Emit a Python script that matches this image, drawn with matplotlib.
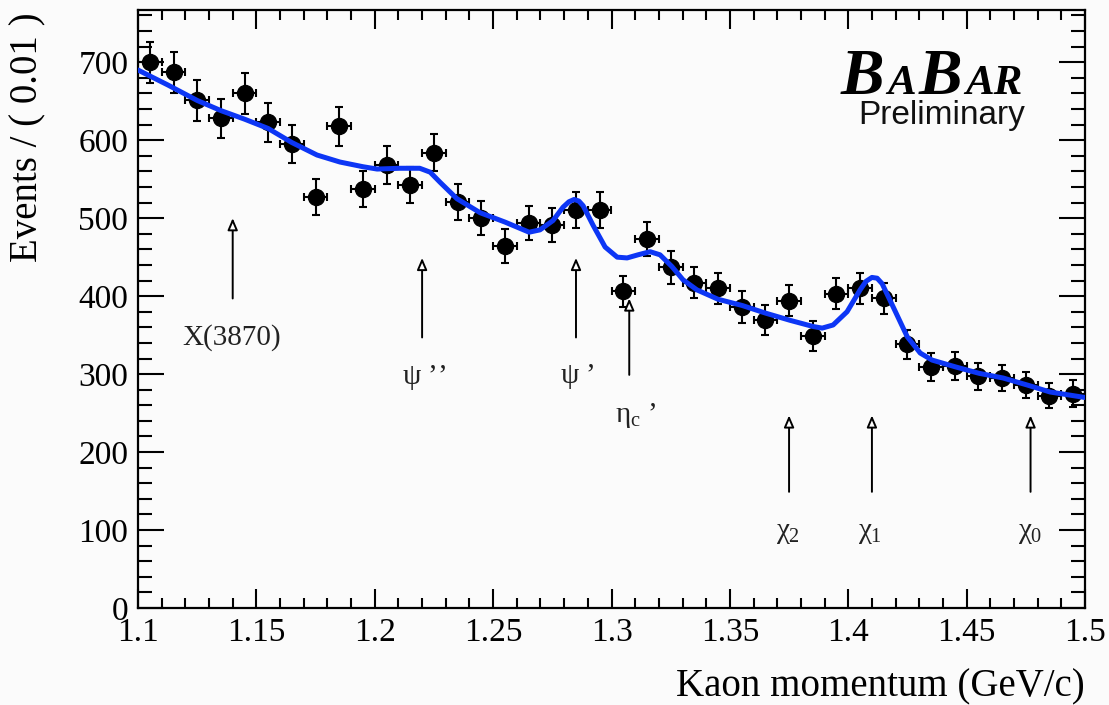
import numpy as np
import matplotlib
matplotlib.use("Agg")
import matplotlib.pyplot as plt
from matplotlib.ticker import MultipleLocator, FormatStrFormatter
from matplotlib.offsetbox import TextArea, HPacker, AnnotationBbox

plt.rcParams['font.family'] = ['Liberation Serif', 'DejaVu Serif']
plt.rcParams['mathtext.fontset'] = 'custom'
plt.rcParams['mathtext.rm'] = 'Liberation Serif'
plt.rcParams['mathtext.it'] = 'Liberation Serif'
plt.rcParams['mathtext.bf'] = 'Liberation Serif:bold'

# ---- data ----
bin_centers = [1.105, 1.115, 1.125, 1.135, 1.145, 1.155, 1.165, 1.175, 1.185, 1.195,
               1.205, 1.215, 1.225, 1.235, 1.245, 1.255, 1.265, 1.275, 1.285, 1.295,
               1.305, 1.315, 1.325, 1.335, 1.345, 1.355, 1.365, 1.375, 1.385, 1.395,
               1.405, 1.415, 1.425, 1.435, 1.445, 1.455, 1.465, 1.475, 1.485, 1.495]
events = [700, 687, 651, 628, 660, 623, 595, 527, 618, 537,
          568, 543, 584, 521, 500, 464, 494, 491, 510, 510,
          406, 473, 437, 417, 410, 386, 369, 394, 349, 403,
          410, 397, 338, 309, 310, 297, 295, 286, 272, 275]
event_errors = [26, 26, 26, 25, 26, 25, 24, 23, 25, 23,
                24, 23, 24, 23, 22, 22, 22, 22, 23, 23,
                20, 22, 21, 20, 20, 20, 19, 20, 19, 20,
                20, 20, 18, 18, 18, 17, 17, 17, 16, 17]
bin_half_width = 0.005

fit_x = [1.100, 1.1125, 1.125, 1.135, 1.145, 1.155, 1.165, 1.1756, 1.1853, 1.195,
         1.201, 1.2107, 1.219, 1.2234, 1.2276, 1.2347, 1.2445, 1.255, 1.2652, 1.2698,
         1.2753, 1.2795, 1.282, 1.2842, 1.2862, 1.288, 1.2922, 1.2973, 1.3024, 1.3066,
         1.3112, 1.3163, 1.3205, 1.3255, 1.3302, 1.3361, 1.345, 1.3552, 1.3653, 1.3754,
         1.3852, 1.389, 1.3936, 1.3995, 1.405, 1.4075, 1.41, 1.4122, 1.4143, 1.419,
         1.4249, 1.4304, 1.4354, 1.4456, 1.4553, 1.4654, 1.4756, 1.4853, 1.500]
fit_y = [690, 671, 651, 638, 627, 615, 597, 581, 572, 566,
         563, 564, 564, 559, 546, 525, 507, 495, 482, 485,
         497, 514, 521, 524, 522, 516, 491, 463, 450, 449,
         453, 457, 453, 438, 421, 408, 396, 388, 378, 369,
         361, 359, 363, 380, 408, 419, 424, 423, 416, 386,
         348, 327, 318, 309, 301, 295, 286, 277, 270]

arrow_x = [1.14, 1.22, 1.285, 1.3075, 1.375, 1.41, 1.477]
arrow_top = [500, 449, 449, 397, 247, 247, 247]
arrow_bottom = [397, 347, 347, 299, 149, 149, 149]
label_text = ['X(3870)', r'$\psi$ ’’', r'$\psi$ ’', r'$\eta_{\rm c}$ ’',
              r'$\chi_2$', r'$\chi_1$', r'$\chi_0$']
label_x = [1.1397, 1.2208, 1.2854, 1.3103, 1.3746, 1.4092, 1.4768]
label_y = [347, 295, 297, 247, 96, 96, 96]

# ---- figure ----
W, H = 1109, 705
bg = '#fbfbfb'
fig = plt.figure(figsize=(W / 100, H / 100), dpi=100, facecolor=bg)
ax = fig.add_axes([138 / W, 1 - 608 / H, (1085 - 138) / W, (608 - 10) / H])
ax.set_facecolor(bg)

ax.errorbar(bin_centers, events, xerr=bin_half_width, yerr=event_errors,
            fmt='o', color='black', ms=11.5, elinewidth=1.5, capsize=3,
            capthick=1.5, zorder=3)
ax.plot(fit_x, fit_y, color='#0d36f5', lw=3.6, zorder=4,
        solid_joinstyle='round', solid_capstyle='round')

for xa, yt, yb in zip(arrow_x, arrow_top, arrow_bottom):
    ax.annotate('', xy=(xa, yt), xytext=(xa, yb),
                arrowprops=dict(arrowstyle='-|>,head_length=0.7,head_width=0.3',
                                fc='white', ec='black', lw=1.4,
                                shrinkA=0, shrinkB=0), zorder=2)
for t, xl, yl in zip(label_text, label_x, label_y):
    ax.text(xl, yl, t, ha='center', va='center', fontsize=21, color='#222222')

ax.set_xlim(1.1, 1.5)
ax.set_ylim(0, 767)
ax.xaxis.set_major_locator(MultipleLocator(0.05))
ax.xaxis.set_minor_locator(MultipleLocator(0.01))
ax.yaxis.set_major_locator(MultipleLocator(100))
ax.yaxis.set_minor_locator(MultipleLocator(20))
ax.xaxis.set_major_formatter(FormatStrFormatter('%g'))
ax.yaxis.set_major_formatter(FormatStrFormatter('%g'))
ax.tick_params(axis='both', which='both', direction='in', top=True, right=True,
               width=1.5, color='black')
ax.tick_params(axis='x', which='major', length=14, pad=7, labelsize=24)
ax.tick_params(axis='x', which='minor', length=7)
ax.tick_params(axis='y', which='major', length=19, pad=7, labelsize=24)
ax.tick_params(axis='y', which='minor', length=10)
for s in ax.spines.values():
    s.set_linewidth(1.6)

fig.text(1085 / W, 1 - 687 / H, 'Kaon momentum (GeV/c)', ha='right', va='center',
         fontsize=28)
fig.text(28 / W, 1 - 12 / H, 'Events / ( 0.01 )', ha='center', va='top',
         rotation=90, fontsize=28)

# BaBar logo
big = dict(fontfamily='Liberation Serif', fontweight='bold', fontstyle='italic',
           fontsize=47, color='black')
small = dict(big, fontsize=31)
logo = HPacker(children=[TextArea('B', textprops=big), TextArea('A', textprops=small),
                         TextArea('B', textprops=big), TextArea('AR', textprops=small)],
               align='baseline', pad=0, sep=2)
ab = AnnotationBbox(logo, (1022 / W, 1 - 108 / H), xycoords='figure fraction',
                    box_alignment=(1.0, 0.0), frameon=False, pad=0)
fig.add_artist(ab)
fig.text(1025 / W, 1 - 124 / H, 'Preliminary', ha='right', va='baseline',
         fontsize=24, fontfamily='Liberation Sans', color='#111111')

fig.savefig('out.png', dpi=100, facecolor=bg)
